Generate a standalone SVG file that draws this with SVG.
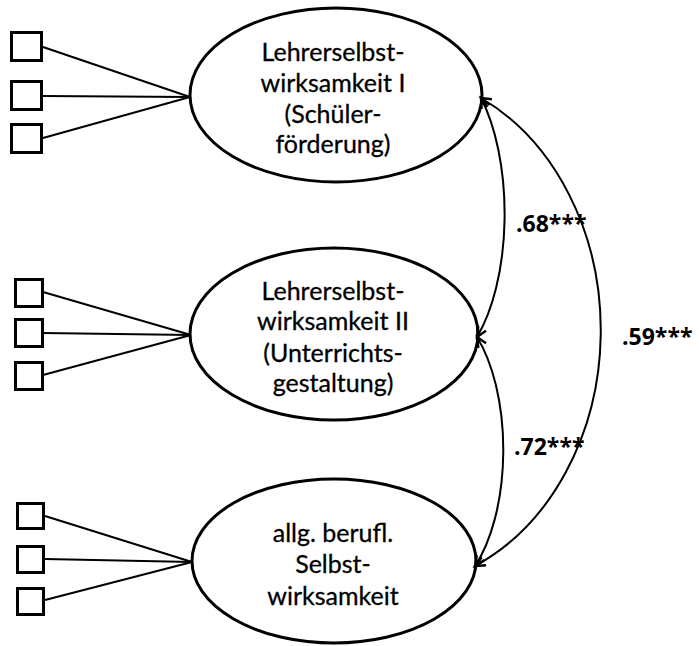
<svg xmlns="http://www.w3.org/2000/svg" width="699" height="646" viewBox="0 0 699 646">
<defs>
<style>
.ell{fill:#fff;stroke:#000;stroke-width:3}
.sq{fill:#fff;stroke:#000;stroke-width:3}
.ln{stroke:#000;stroke-width:2;fill:none}
.cv{stroke:#000;stroke-width:2;fill:none;marker-start:url(#ah);marker-end:url(#ah)}
.t{font-family:Lato,"Open Sans",sans-serif;font-size:25px;text-anchor:middle;fill:#000;stroke:#000;stroke-width:0.3}
.c{font-family:"Open Sans",Lato,sans-serif;font-size:23px;font-weight:bold;fill:#000}
</style>
<marker id="ah" markerUnits="userSpaceOnUse" markerWidth="14" markerHeight="14" refX="11" refY="6" orient="auto-start-reverse" viewBox="0 0 14 12">
<path d="M1,1.5 L11,6 L1,10.5" fill="none" stroke="#000" stroke-width="2.4"/>
</marker>
</defs>
<rect width="699" height="646" fill="#fff"/>
<g id="ind1"><rect class="sq" x="11.5" y="32.5" width="30" height="28"/><rect class="sq" x="11.5" y="81.5" width="30" height="28"/><rect class="sq" x="11.5" y="124.5" width="30" height="28"/></g>
<g id="ind2"><rect class="sq" x="15.5" y="279.5" width="27" height="27"/><rect class="sq" x="15.5" y="319.5" width="27" height="27"/><rect class="sq" x="15.5" y="362.5" width="27" height="27"/></g>
<g id="ind3"><rect class="sq" x="17.5" y="503.5" width="26" height="25"/><rect class="sq" x="17.5" y="546.5" width="26" height="26"/><rect class="sq" x="17.5" y="588.5" width="26" height="26"/></g>
<g id="lse1">
<ellipse class="ell" cx="336" cy="95" rx="146" ry="87"/>
<text class="t" x="333" y="61">Lehrerselbst-</text>
<text class="t" x="333" y="92">wirksamkeit I</text>
<text class="t" x="333" y="123">(Schüler-</text>
<text class="t" x="333" y="153">förderung)</text>
</g>
<g id="lse2">
<ellipse class="ell" cx="334" cy="334" rx="144" ry="86"/>
<text class="t" x="333" y="300">Lehrerselbst-</text>
<text class="t" x="333" y="330">wirksamkeit II</text>
<text class="t" x="333" y="362">(Unterrichts-</text>
<text class="t" x="333" y="392">gestaltung)</text>
</g>
<g id="abs">
<ellipse class="ell" cx="334" cy="561" rx="142" ry="82"/>
<text class="t" x="333" y="542">allg. berufl.</text>
<text class="t" x="333" y="573">Selbst-</text>
<text class="t" x="333" y="605">wirksamkeit</text>
</g>
<g id="connectors">
<line class="ln" x1="43" y1="47" x2="190" y2="97"/>
<line class="ln" x1="43" y1="96" x2="190" y2="97"/>
<line class="ln" x1="43" y1="138" x2="190" y2="97"/>
<line class="ln" x1="43" y1="292" x2="191" y2="335"/>
<line class="ln" x1="43" y1="333" x2="191" y2="335"/>
<line class="ln" x1="43" y1="375" x2="191" y2="335"/>
<line class="ln" x1="45" y1="516" x2="192" y2="562"/>
<line class="ln" x1="45" y1="559" x2="192" y2="562"/>
<line class="ln" x1="45" y1="600" x2="192" y2="562"/>
<path class="cv" d="M481,98 A68,153 0 0 1 477,337"/>
<path class="cv" d="M477,337 A68,143 0 0 1 475,566"/>
<path class="cv" d="M481,98 A212,258 0 0 1 475,566"/>
</g>
<g id="labels">
<text class="c" x="516" y="232">.68***</text>
<text class="c" x="514" y="455">.72***</text>
<text class="c" x="622" y="345">.59***</text>
</g>
</svg>
